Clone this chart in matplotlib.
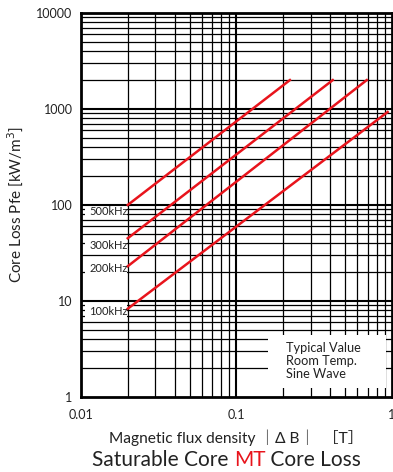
import numpy as np
import matplotlib
matplotlib.use("Agg")
import matplotlib.pyplot as plt
from matplotlib.patches import Rectangle

# curve end points: (flux density [T], core loss [kW/m3])
freq_labels = ["500kHz", "300kHz", "200kHz", "100kHz"]
b_start = [0.02, 0.02, 0.02, 0.02]
b_end = [0.221, 0.417, 0.69, 0.94]
p_start = [100, 45, 23, 8.3]
p_end = [2000, 2000, 2000, 930]

x_ticks = [0.01, 0.1, 1]
x_tick_labels = ["0.01", "0.1", "1"]
y_ticks = [1, 10, 100, 1000, 10000]
y_tick_labels = ["1", "10", "100", "1000", "10000"]

notes = ["Typical Value", "Room Temp.", "Sine Wave"]

RED = "#e8141c"
INK = "#222222"
FONT = ["Lato", "Noto Sans CJK JP", "DejaVu Sans"]
plt.rcParams["font.family"] = FONT

fig = plt.figure(figsize=(3.93, 4.72), dpi=100)
ax = fig.add_axes([0.206, 0.159, 0.791, 0.8135])
ax.set_xscale("log")
ax.set_yscale("log")
ax.set_xlim(0.01, 1)
ax.set_ylim(1, 10000)


def pix_box(x0, x1, y0, y1):
    """white cover box given in reference pixel coords -> axes fraction"""
    return Rectangle(((x0 - 81) / 311, (397 - y1) / 384), (x1 - x0) / 311,
                     (y1 - y0) / 384, transform=ax.transAxes,
                     facecolor="white", edgecolor="none", zorder=2)


# grid: horizontal over the full width, vertical only from 0.02 up
for dec in [1, 10, 100, 1000]:
    for k in range(2, 10):
        ax.axhline(dec * k, color="black", lw=0.9, zorder=1)
    if dec > 1:
        ax.axhline(dec, color="black", lw=1.5, zorder=1)
for dec in [0.01, 0.1]:
    for k in range(2, 10):
        ax.axvline(dec * k, color="black", lw=0.9, zorder=1)
ax.axvline(0.1, color="black", lw=1.5, zorder=1)

# white patches behind the frequency labels and the note
label_boxes = [(207, 218), (236, 254), (258, 298), (304, 320)]
for y0, y1 in label_boxes:
    ax.add_patch(pix_box(85, 127, y0, y1))
ax.add_patch(pix_box(268, 386, 335, 388))

label_dy = [-7, -7, -2, -3]  # label offset below each curve start, pixels
for lab, b0, b1, p0, p1, dy in zip(freq_labels, b_start, b_end, p_start, p_end, label_dy):
    ax.plot([b0, b1], [p0, p1], color=RED, lw=1.8, zorder=3)
    ax.annotate(lab, (b0, p0), xytext=(0, dy), textcoords="offset pixels",
                ha="right", va="center", fontsize=8, color=INK, zorder=4)

ax.text(0.659, 0.093, "\n".join(notes), transform=ax.transAxes, ha="left",
        va="center", fontsize=9.2, linespacing=1.1, color=INK, zorder=4)

for s in ax.spines.values():
    s.set_linewidth(2)
ax.set_xticks(x_ticks)
ax.set_xticklabels(x_tick_labels)
ax.set_yticks(y_ticks)
ax.set_yticklabels(y_tick_labels)
ax.minorticks_off()
ax.tick_params(length=0, labelsize=9, colors=INK)
ax.tick_params(axis="x", pad=9)
ax.tick_params(axis="y", pad=6)

ax.set_ylabel("Core Loss Pfe [kW/m$^3$]", fontsize=11, color=INK, labelpad=8)
fig.text(0.602, 0.073, "Magnetic flux density \uff5c\u0394 B\uff5c  \uff3bT\uff3d",
         ha="center", va="center", fontsize=11.2, color=INK)

# title line with red "MT"
t1 = fig.text(0.595, 0.025, "Saturable Core ", ha="right", va="center",
              fontsize=15, color=INK)
t2 = fig.text(0.595, 0.025, "MT", ha="left", va="center", fontsize=15, color=RED)
fig.canvas.draw()
bb = t2.get_window_extent()
fig.text(bb.x1 / fig.bbox.width, 0.025, " Core Loss", ha="left", va="center",
         fontsize=15, color=INK)

fig.savefig("out.png", dpi=100)
